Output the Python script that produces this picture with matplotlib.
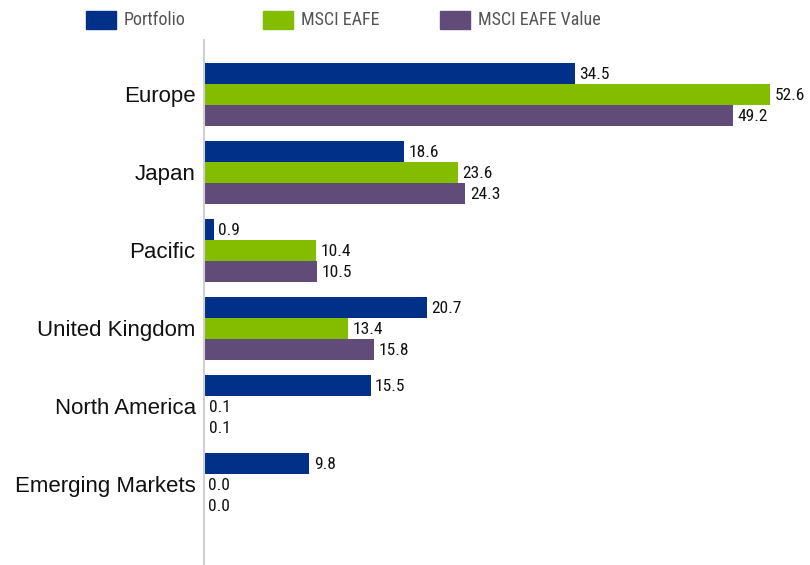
import matplotlib
matplotlib.use("Agg")
import matplotlib.pyplot as plt
from matplotlib.patches import Rectangle
import numpy as np

categories = ["Europe", "Japan", "Pacific", "United Kingdom", "North America", "Emerging Markets"]
series_names = ["Portfolio", "MSCI EAFE", "MSCI EAFE Value"]
portfolio = [34.5, 18.6, 0.9, 20.7, 15.5, 9.8]
msci_eafe = [52.6, 23.6, 10.4, 13.4, 0.1, 0.0]
msci_eafe_value = [49.2, 24.3, 10.5, 15.8, 0.1, 0.0]
colors = ["#003087", "#84BD00", "#614B79"]

narrow = ["Roboto Condensed", "DejaVu Sans"]

W, H = 810, 565
fig = plt.figure(figsize=(W / 100, H / 100), dpi=100)
ax = fig.add_axes([204 / W, 0, (W - 204) / W, (H - 40) / H])

bar_h = 0.27
y = np.arange(len(categories))
series = [portfolio, msci_eafe, msci_eafe_value]
for i, (vals, c) in enumerate(zip(series, colors)):
    pos = y + (i - 1) * bar_h
    ax.barh(pos, vals, height=bar_h, color=c, edgecolor="none")
    for p, v in zip(pos, vals):
        ax.text(v + 0.4, p + 0.02, f"{v:.1f}", va="center", ha="left",
                fontsize=12.5, family=narrow, color="#111111")

ax.set_xlim(0, (W - 204) / 10.76)
ax.set_ylim(5 + 1.035, -0.695)
ax.set_yticks(y)
ax.set_yticklabels(categories, fontsize=16, family="Liberation Sans", color="#111111")
ax.tick_params(axis="y", length=0, pad=6)
ax.set_xticks([])
for s in ["top", "right", "bottom"]:
    ax.spines[s].set_visible(False)
ax.spines["left"].set_color("#d0d0d0")
ax.spines["left"].set_linewidth(1.5)

# legend
leg_x = [86, 263, 440]
for lx, name, c in zip(leg_x, series_names, colors):
    fig.patches.append(Rectangle((lx / W, 1 - 29 / H), 30 / W, 18 / H,
                                 transform=fig.transFigure, color=c))
    fig.text((lx + 38) / W, 1 - 20 / H, name, va="center", ha="left",
             fontsize=13, family=narrow, color="#555555")

fig.savefig("out.png", dpi=100)
